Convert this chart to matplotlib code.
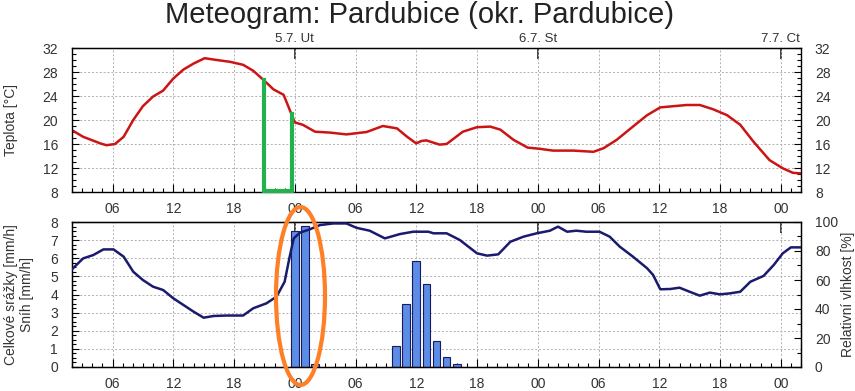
import matplotlib
matplotlib.use("Agg")
import matplotlib.pyplot as plt
from matplotlib.patches import Ellipse
from matplotlib.ticker import MultipleLocator, FixedLocator

plt.rcParams["font.family"] = ["Liberation Sans", "DejaVu Sans"]

# hours since 4.7. 00:00
temp_hours = [2, 3.1, 4.8, 5.4, 6.25, 7.1, 8.05, 9.0, 10.0, 11.0, 12.0, 13.0, 14.0,
              15.1, 16.3, 17.6, 18.9, 19.9, 20.9, 21.9, 22.9, 23.5, 24.0, 24.8,
              26.0, 27.5, 29.1, 31.1, 32.7, 34.1, 35.1, 36.0, 36.5, 37.0, 38.3,
              39.0, 40.6, 42.0, 43.3, 44.3, 45.6, 47.0, 48.2, 49.5, 51.5, 53.5,
              54.5, 55.8, 57.4, 58.8, 60.1, 61.4, 62.7, 64.0, 65.3, 66.7, 68.0,
              69.3, 70.9, 72.2, 73.2, 74.0]
temp = [18.3, 17.2, 16.1, 15.8, 16.0, 17.2, 20.0, 22.3, 23.9, 24.9, 26.9, 28.4, 29.4,
        30.3, 30.0, 29.7, 29.2, 28.2, 26.7, 25.1, 24.2, 21.7, 19.6, 19.2,
        18.05, 17.9, 17.6, 18.0, 19.0, 18.6, 17.2, 16.1, 16.5, 16.6, 15.9,
        16.0, 18.05, 18.8, 18.9, 18.4, 16.7, 15.4, 15.2, 14.9, 14.9, 14.7,
        15.3, 16.7, 18.9, 20.8, 22.1, 22.3, 22.5, 22.5, 21.8, 20.8, 19.2,
        16.4, 13.3, 11.95, 11.2, 11.1]

hum_hours = [2, 3.1, 4.1, 5.1, 6.1, 7.1, 8.05, 9.0, 10.0, 11.0, 12.0, 13.0, 14.0,
             15.0, 16.0, 17.3, 18.9, 19.9, 21.2, 22.2, 23.0, 23.5, 23.9, 24.5,
             25.5, 26.5, 27.8, 29.1, 30.1, 31.4, 32.9, 34.4, 35.7, 37.2, 37.7,
             39.0, 40.3, 42.0, 43.0, 44.1, 45.3, 46.6, 47.9, 49.2, 50.0, 50.9,
             51.8, 52.8, 54.1, 55.1, 56.1, 57.4, 58.8, 59.4, 60.1, 61.1, 62.0,
             63.0, 64.0, 65.0, 66.0, 67.0, 68.0, 69.0, 70.3, 71.3, 72.2, 73.0, 74.0]
humidity = [67.4, 74.9, 77.2, 81.1, 81.1, 76.1, 65.7, 60.0, 55.4, 53.1, 47.4, 42.8, 38.2,
            34.0, 35.2, 35.5, 35.5, 40.5, 43.9, 48.5, 58.8, 76.1, 88.7, 92.6,
            95.0, 97.9, 99.0, 99.0, 96.0, 94.0, 88.7, 91.7, 93.3, 93.3, 92.2,
            92.2, 87.6, 78.4, 76.8, 77.7, 86.4, 89.9, 92.2, 94.0, 96.8, 93.3,
            94.0, 93.3, 93.3, 89.9, 83.0, 76.1, 68.1, 63.4, 53.6, 53.8, 54.7,
            51.9, 49.2, 51.3, 50.1, 50.8, 51.9, 58.8, 62.8, 70.3, 78.4, 82.5, 82.5]

rain_hours = [24, 25, 26, 34, 35, 36, 37, 38, 39, 40]
rain = [7.5, 7.8, 0.15, 1.15, 3.5, 5.85, 4.6, 1.45, 0.55, 0.15]

day_ticks = [24, 48, 72]
day_labels = ["5.7. Ut", "6.7. St", "7.7. Ct"]
hour_ticks = list(range(6, 75, 6))
hour_labels = ["%02d" % (h % 24) for h in hour_ticks]

TEXT = "#333333"
GRID = dict(color="#b0b0b0", linestyle=(0, (2, 2)), linewidth=0.7)

fig = plt.figure(figsize=(8.55, 3.91), dpi=100)
ax_t = fig.add_axes([72 / 855, 1 - 192 / 391, 729 / 855, 144 / 391])
ax_b = fig.add_axes([72 / 855, 1 - 367 / 391, 729 / 855, 145 / 391])


def style_time_axis(ax, day_text=None):
    ax.set_xlim(2, 74)
    ax.xaxis.set_major_locator(FixedLocator(hour_ticks))
    ax.set_xticklabels(hour_labels)
    ax.xaxis.set_minor_locator(MultipleLocator(1))
    ax.tick_params(axis="x", which="major", direction="in", length=6, width=0.8,
                   pad=7, labelsize=10, labelcolor=TEXT, top=False)
    ax.tick_params(axis="x", which="minor", direction="in", length=3, width=0.8, top=False)
    ax.grid(True, which="major", **GRID)
    for s in ax.spines.values():
        s.set_linewidth(1.0)
    top = ax.secondary_xaxis("top")
    top.xaxis.set_major_locator(FixedLocator(day_ticks))
    top.set_xticklabels(day_text if day_text else [""] * len(day_ticks))
    top.xaxis.set_minor_locator(FixedLocator([]))
    top.tick_params(direction="in", length=8, width=1.2, color="#222222",
                    labelsize=9.5, pad=2, labelcolor=TEXT)
    return top


# ---- temperature panel ----
ax_t.plot(temp_hours, temp, color="#cc1414", lw=1.8)
ax_t.set_ylim(8, 32)
ax_t.yaxis.set_major_locator(MultipleLocator(4))
ax_t.yaxis.set_minor_locator(MultipleLocator(1))
ax_t.tick_params(axis="y", which="major", direction="in", length=5, width=0.8,
                 right=True, labelright=True, pad=10, labelsize=10, labelcolor=TEXT)
ax_t.tick_params(axis="y", which="minor", direction="in", length=3, width=0.8, right=True)
style_time_axis(ax_t, day_labels)
ax_t.set_ylabel("Teplota [°C]", fontsize=10, color=TEXT)
ax_t.yaxis.set_label_coords(-54 / 729, 0.5)

# green annotation bracket
ax_t.plot([20.96, 20.96, 23.76, 23.76], [26.6, 8.1, 8.1, 20.95],
          color="#22b14c", lw=3, clip_on=False, solid_joinstyle="miter", zorder=5)

# ---- precipitation / humidity panel ----
ax_b.bar(rain_hours, rain, width=0.75, color="#5b8de6", edgecolor="#1a1a5e",
         linewidth=0.8, zorder=2)
ax_b.set_ylim(0, 8)
ax_b.yaxis.set_major_locator(MultipleLocator(1))
ax_b.yaxis.set_minor_locator(MultipleLocator(0.25))
ax_b.tick_params(axis="y", which="major", direction="in", length=5, width=0.8,
                 right=False, pad=10, labelsize=10, labelcolor=TEXT)
ax_b.tick_params(axis="y", which="minor", direction="in", length=3, width=0.8, right=False)
style_time_axis(ax_b)
ax_b.set_ylabel("Celkové srážky [mm/h]\nSníh [mm/h]", fontsize=10, color=TEXT,
                linespacing=1.15)
ax_b.yaxis.set_label_coords(-38 / 729, 0.5)

ax_h = ax_b.twinx()
ax_h.plot(hum_hours, humidity, color="#1a1a6e", lw=1.8, zorder=3)
ax_h.set_ylim(0, 100)
ax_h.yaxis.set_major_locator(MultipleLocator(20))
ax_h.yaxis.set_minor_locator(MultipleLocator(10))
ax_h.tick_params(axis="y", which="major", direction="in", length=5, width=0.8,
                 pad=10, labelsize=10, labelcolor=TEXT)
ax_h.tick_params(axis="y", which="minor", direction="in", length=3, width=0.8)
ax_h.set_ylabel("Relativní vlhkost [%]", fontsize=10, color=TEXT)
ax_h.yaxis.set_label_coords(1 + 40 / 729, 0.5)

# orange highlight ellipse (figure pixels)
fig.patches.append(Ellipse((300.5 / 855, 1 - 296 / 391), 49 / 855, 178 / 391,
                           transform=fig.transFigure, fill=False,
                           edgecolor="#ff7f27", lw=3, zorder=10))

fig.text(419 / 855, 1 - 1 / 391, "Meteogram: Pardubice (okr. Pardubice)", ha="center",
         va="top", fontsize=21, color="#222222")

fig.savefig("out.png", dpi=100)
